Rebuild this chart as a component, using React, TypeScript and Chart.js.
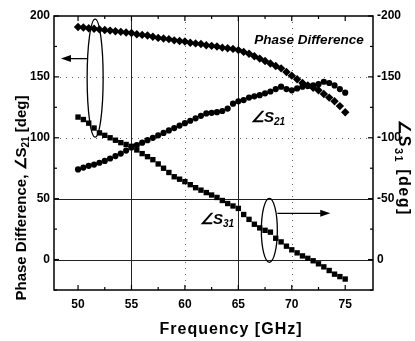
import React, { useEffect, useRef } from 'react';
import { Chart, registerables } from 'chart.js';
Chart.register(...registerables);

// Frequency points [GHz]
const freqs = [50, 50.5, 51, 51.5, 52, 52.5, 53, 53.5, 54, 54.5, 55, 55.5, 56, 56.5, 57, 57.5, 58, 58.5, 59, 59.5, 60, 60.5, 61, 61.5, 62, 62.5, 63, 63.5, 64, 64.5, 65, 65.5, 66, 66.5, 67, 67.5, 68, 68.5, 69, 69.5, 70, 70.5, 71, 71.5, 72, 72.5, 73, 73.5, 74, 74.5, 75];

// Phase difference [deg] (left axis)
const phaseDiff = [191, 190.5, 190, 189.5, 189, 188.5, 188, 187.5, 187, 186.5, 186, 185, 184.5, 184, 183, 182, 181.5, 181, 180, 179.5, 179, 178, 177.5, 177, 176, 175.5, 175, 174, 173.5, 173, 172, 170.5, 169, 167, 165, 163, 161, 159, 157, 154, 151, 148, 145, 143, 141, 139, 136, 133, 130, 126, 121];

// ∠S21 [deg] (left axis)
const s21 = [74, 75.5, 77, 78, 79.5, 81, 83, 85, 87, 89.5, 92, 94, 96, 98, 100, 102, 104, 106, 108, 110, 112, 114, 116, 118, 120, 120.5, 121, 122, 124, 128, 130, 131, 133, 134, 135, 136.5, 138, 140, 142, 140, 139, 140.5, 142, 142.5, 143, 144, 146, 145, 143, 140, 137];

// ∠S31 [deg] (right axis)
const s31 = [-117, -115, -112, -108, -104, -102, -100, -98, -96, -94.5, -93, -90, -87, -84.5, -82, -78.5, -75, -71.5, -68, -66, -64, -61.5, -59, -57, -55, -53, -51, -48.5, -46, -44, -42, -37, -33, -29, -26, -24, -22.5, -17.5, -14.5, -11, -8, -5.5, -3, -1, 1, 3.5, 6, 9, 12, 14, 16];

const xTicks = [50, 55, 60, 65, 70, 75];
const xMinorTicks = [52.5, 57.5, 62.5, 67.5, 72.5];
const leftTicks = [0, 50, 100, 150, 200];
const leftMinorTicks = [-25, 25, 75, 125, 175];
const rightTicks = [-200, -150, -100, -50, 0];

const FONT = '"Liberation Sans", Arial, Helvetica, sans-serif';

type Part = { t: string; sub?: boolean };

function drawRich(ctx: CanvasRenderingContext2D, parts: Part[], x: number, y: number, size: number, style: string, spacing: number) {
  const subSize = Math.round(size * 0.68);
  const setFont = (p: Part) => {
    ctx.font = `${style} ${p.sub ? subSize : size}px ${FONT}`;
    (ctx as any).letterSpacing = `${spacing}px`;
  };
  let total = 0;
  for (const p of parts) {
    setFont(p);
    total += ctx.measureText(p.t).width;
  }
  let cx = x - total / 2;
  ctx.textAlign = 'left';
  ctx.textBaseline = 'middle';
  for (const p of parts) {
    setFont(p);
    ctx.fillText(p.t, cx, y + (p.sub ? size * 0.3 : 0));
    cx += ctx.measureText(p.t).width;
  }
  (ctx as any).letterSpacing = '0px';
}

function arrow(ctx: CanvasRenderingContext2D, x1: number, y1: number, x2: number, y2: number) {
  const dir = Math.sign(x2 - x1);
  ctx.beginPath();
  ctx.moveTo(x1, y1);
  ctx.lineTo(x2 - dir * 6, y2);
  ctx.stroke();
  ctx.beginPath();
  ctx.moveTo(x2, y2);
  ctx.lineTo(x2 - dir * 10, y2 - 3.5);
  ctx.lineTo(x2 - dir * 10, y2 + 3.5);
  ctx.closePath();
  ctx.fill();
}

const decor = {
  id: 'decor',
  beforeDatasetsDraw(chart: any) {
    const { ctx, chartArea: a, scales } = chart;
    const x = scales.x, y = scales.y;
    ctx.save();
    const hline = (py: number) => { ctx.beginPath(); ctx.moveTo(a.left, py); ctx.lineTo(a.right, py); ctx.stroke(); };
    const vline = (px: number) => { ctx.beginPath(); ctx.moveTo(px, a.top); ctx.lineTo(px, a.bottom); ctx.stroke(); };
    // dotted grid
    ctx.strokeStyle = '#666';
    ctx.lineWidth = 1;
    ctx.setLineDash([1, 5]);
    [60, 70].forEach(v => vline(Math.round(x.getPixelForValue(v)) + 0.5));
    [100, 150].forEach(v => hline(Math.round(y.getPixelForValue(v)) + 0.5));
    // solid grid
    ctx.setLineDash([]);
    ctx.strokeStyle = '#222';
    [55, 65].forEach(v => vline(Math.round(x.getPixelForValue(v)) + 0.5));
    [0, 50].forEach(v => hline(Math.round(y.getPixelForValue(v)) + 0.5));
    // inner ticks
    ctx.strokeStyle = '#000';
    ctx.lineWidth = 1.2;
    const tickX = (v: number, len: number) => {
      const px = x.getPixelForValue(v);
      ctx.beginPath(); ctx.moveTo(px, a.bottom); ctx.lineTo(px, a.bottom - len); ctx.stroke();
      ctx.beginPath(); ctx.moveTo(px, a.top); ctx.lineTo(px, a.top + len); ctx.stroke();
    };
    const tickY = (v: number, len: number) => {
      const py = y.getPixelForValue(v);
      ctx.beginPath(); ctx.moveTo(a.left, py); ctx.lineTo(a.left + len, py); ctx.stroke();
      ctx.beginPath(); ctx.moveTo(a.right, py); ctx.lineTo(a.right - len, py); ctx.stroke();
    };
    xTicks.forEach(v => tickX(v, 5));
    xMinorTicks.forEach(v => tickX(v, 3));
    leftTicks.forEach(v => tickY(v, 5));
    leftMinorTicks.forEach(v => tickY(v, 3));
    // frame
    ctx.lineWidth = 1.5;
    ctx.strokeRect(a.left, a.top, a.right - a.left, a.bottom - a.top);
    ctx.restore();
  },
  afterDraw(chart: any) {
    const { ctx, scales } = chart;
    const x = scales.x, y = scales.y, y2 = scales.y2;
    ctx.save();
    ctx.fillStyle = '#000';
    ctx.strokeStyle = '#000';
    // axis titles
    drawRich(ctx, [{ t: 'Frequency [GHz]' }], 231, 330, 16, 'bold', 1);
    ctx.save();
    ctx.translate(22, 198);
    ctx.rotate(-Math.PI / 2);
    drawRich(ctx, [{ t: 'Phase Difference, ∠S' }, { t: '21', sub: true }, { t: ' [deg]' }], 0, 0, 15, 'bold', 0);
    ctx.restore();
    ctx.save();
    ctx.translate(403, 168);
    ctx.rotate(Math.PI / 2);
    drawRich(ctx, [{ t: '∠S' }, { t: '31', sub: true }, { t: ' [deg]' }], 0, 0, 16, 'bold', 1.5);
    ctx.restore();
    // series annotations
    drawRich(ctx, [{ t: 'Phase Difference' }], 309, 40, 13.5, 'italic bold', 0);
    drawRich(ctx, [{ t: '∠S' }, { t: '21', sub: true }], 268, 118, 15, 'italic bold', 0);
    drawRich(ctx, [{ t: '∠S' }, { t: '31', sub: true }], 217, 220, 15, 'italic bold', 0);
    // ellipses and arrows
    ctx.lineWidth = 1.3;
    const e1x = x.getPixelForValue(51.6), e1y = y.getPixelForValue(149);
    ctx.beginPath(); ctx.ellipse(e1x, e1y, 8, 59, 0, 0, Math.PI * 2); ctx.stroke();
    arrow(ctx, e1x - 8, y.getPixelForValue(165), x.getPixelForValue(48.4), y.getPixelForValue(165));
    const e2x = x.getPixelForValue(67.9), e2y = y2.getPixelForValue(-24);
    ctx.beginPath(); ctx.ellipse(e2x, e2y, 8, 32, 0, 0, Math.PI * 2); ctx.stroke();
    arrow(ctx, e2x + 8, y2.getPixelForValue(-38), x.getPixelForValue(73.6), y2.getPixelForValue(-38));
    ctx.restore();
  },
};

export default function App() {
  const ref = useRef<HTMLCanvasElement>(null);
  useEffect(() => {
    if (!ref.current) return;
    const tickFont = { family: FONT, size: 12, weight: 'bold' as const };
    const chart = new Chart(ref.current, {
      type: 'scatter',
      data: {
        datasets: [
          {
            label: 'Phase Difference',
            data: freqs.map((f, i) => ({ x: f, y: phaseDiff[i] })),
            yAxisID: 'y',
            showLine: false,
            pointStyle: 'rectRot',
            pointRadius: 4.2,
            backgroundColor: '#000',
            borderColor: '#000',
            borderWidth: 0,
          },
          {
            label: '∠S21',
            data: freqs.map((f, i) => ({ x: f, y: s21[i] })),
            yAxisID: 'y',
            showLine: false,
            pointStyle: 'circle',
            pointRadius: 3.1,
            backgroundColor: '#000',
            borderColor: '#000',
            borderWidth: 0,
          },
          {
            label: '∠S31',
            data: freqs.map((f, i) => ({ x: f, y: s31[i] })),
            yAxisID: 'y2',
            showLine: false,
            pointStyle: 'rect',
            pointRadius: 3.8,
            backgroundColor: '#000',
            borderColor: '#000',
            borderWidth: 0,
          },
        ],
      },
      options: {
        responsive: false,
        animation: false,
        devicePixelRatio: 1,
        layout: { padding: { top: 16, left: 0, right: 0, bottom: 0 } },
        plugins: { legend: { display: false }, tooltip: { enabled: false } },
        scales: {
          x: {
            type: 'linear',
            position: 'bottom',
            min: 47.75,
            max: 77.6,
            grid: { display: false, drawTicks: false },
            border: { display: false },
            ticks: { font: tickFont, color: '#000', padding: 7, maxRotation: 0 },
            afterBuildTicks: (s: any) => { s.ticks = xTicks.map(v => ({ value: v })); },
            afterFit: (s: any) => { s.height = 51; },
          },
          y: {
            type: 'linear',
            position: 'left',
            min: -25,
            max: 200,
            grid: { display: false, drawTicks: false },
            border: { display: false },
            ticks: { font: tickFont, color: '#000', padding: 4 },
            afterBuildTicks: (s: any) => { s.ticks = leftTicks.map(v => ({ value: v })); },
            afterFit: (s: any) => { s.width = 54; },
          },
          y2: {
            type: 'linear',
            position: 'right',
            min: -200,
            max: 25,
            reverse: true,
            grid: { display: false, drawTicks: false },
            border: { display: false },
            ticks: { font: tickFont, color: '#000', padding: 4 },
            afterBuildTicks: (s: any) => { s.ticks = rightTicks.map(v => ({ value: v })); },
            afterFit: (s: any) => { s.width = 42; },
          },
        },
      },
      plugins: [decor],
    });
    return () => chart.destroy();
  }, []);
  return (
    <div style={{ position: 'absolute', left: 0, top: 0, width: 415, height: 341, background: '#fff' }}>
      <canvas ref={ref} width={415} height={341} style={{ width: 415, height: 341, display: 'block' }} />
    </div>
  );
}
